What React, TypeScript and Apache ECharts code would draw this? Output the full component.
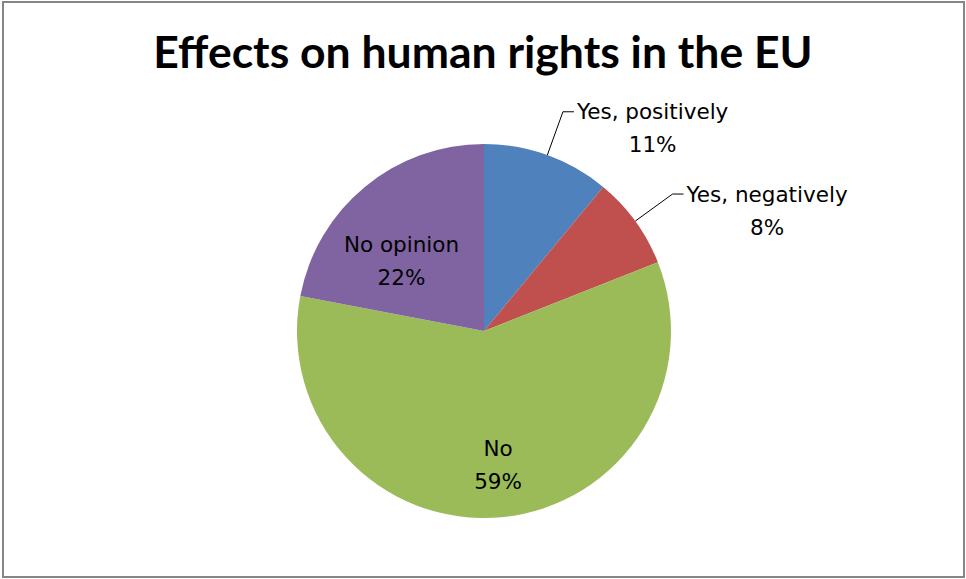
import React, { useEffect, useRef } from "react";
import * as echarts from "echarts";

const categories = ["Yes, positively", "Yes, negatively", "No", "No opinion"];
const percentages = [11, 8, 59, 22];
const colors = ["#4F81BD", "#C0504D", "#9BBB59", "#8064A2"];
const labelPositions = ["outside", "outside", "inside", "inside"];
const titleText = "Effects on human rights in the EU";

const TITLE_FONT = "Lato";
const LABEL_FONT = "DejaVu Sans";

export default function App() {
  const ref = useRef<HTMLDivElement>(null);
  useEffect(() => {
    document.body.style.margin = "0";
    const chart = echarts.init(ref.current!, null, { renderer: "svg" });
    const data = categories.map((name, i) => ({
      name,
      value: percentages[i],
      itemStyle: { color: colors[i] },
      label: {
        position: labelPositions[i],
        padding: labelPositions[i] === "outside" ? [33, 0, 0, 0] : 0,
      },
    }));
    chart.setOption({
      animation: false,
      backgroundColor: "#ffffff",
      title: {
        text: titleText,
        left: "center",
        top: 23,
        textStyle: { fontFamily: TITLE_FONT, fontWeight: "bold", fontSize: 44.5, color: "#000" },
      },
      graphic: [
        {
          type: "rect",
          shape: { x: 3, y: 2, width: 961, height: 575 },
          style: { fill: "none", stroke: "#868686", lineWidth: 2 },
          silent: true,
        },
      ],
      series: [
        {
          type: "pie",
          center: [484, 331],
          radius: [0, 187],
          startAngle: 90,
          clockwise: true,
          avoidLabelOverlap: false,
          data,
          itemStyle: { borderWidth: 0 },
          label: {
            formatter: "{a|{b}}\n{a|{c}%}",
            fontFamily: LABEL_FONT,
            fontSize: 21.5,
            color: "#000",
            lineHeight: 33,
            rich: { a: { fontFamily: LABEL_FONT, fontSize: 21.5, color: "#000", lineHeight: 33, align: "center" } },
            distanceToLabelLine: 3,
          },
          labelLine: {
            length: 46,
            length2: 11,
            lineStyle: { color: "#000", width: 1 },
          },
          labelLayout: (p: any) => {
            if (p.dataIndex === 3) return { dx: -21, dy: 4 };
            if (p.dataIndex === 2) return { dx: 5, dy: 38 };
            return {};
          },
          emphasis: { disabled: true },
        },
      ],
    });
    return () => chart.dispose();
  }, []);
  return <div ref={ref} style={{ width: 966, height: 579 }} />;
}
